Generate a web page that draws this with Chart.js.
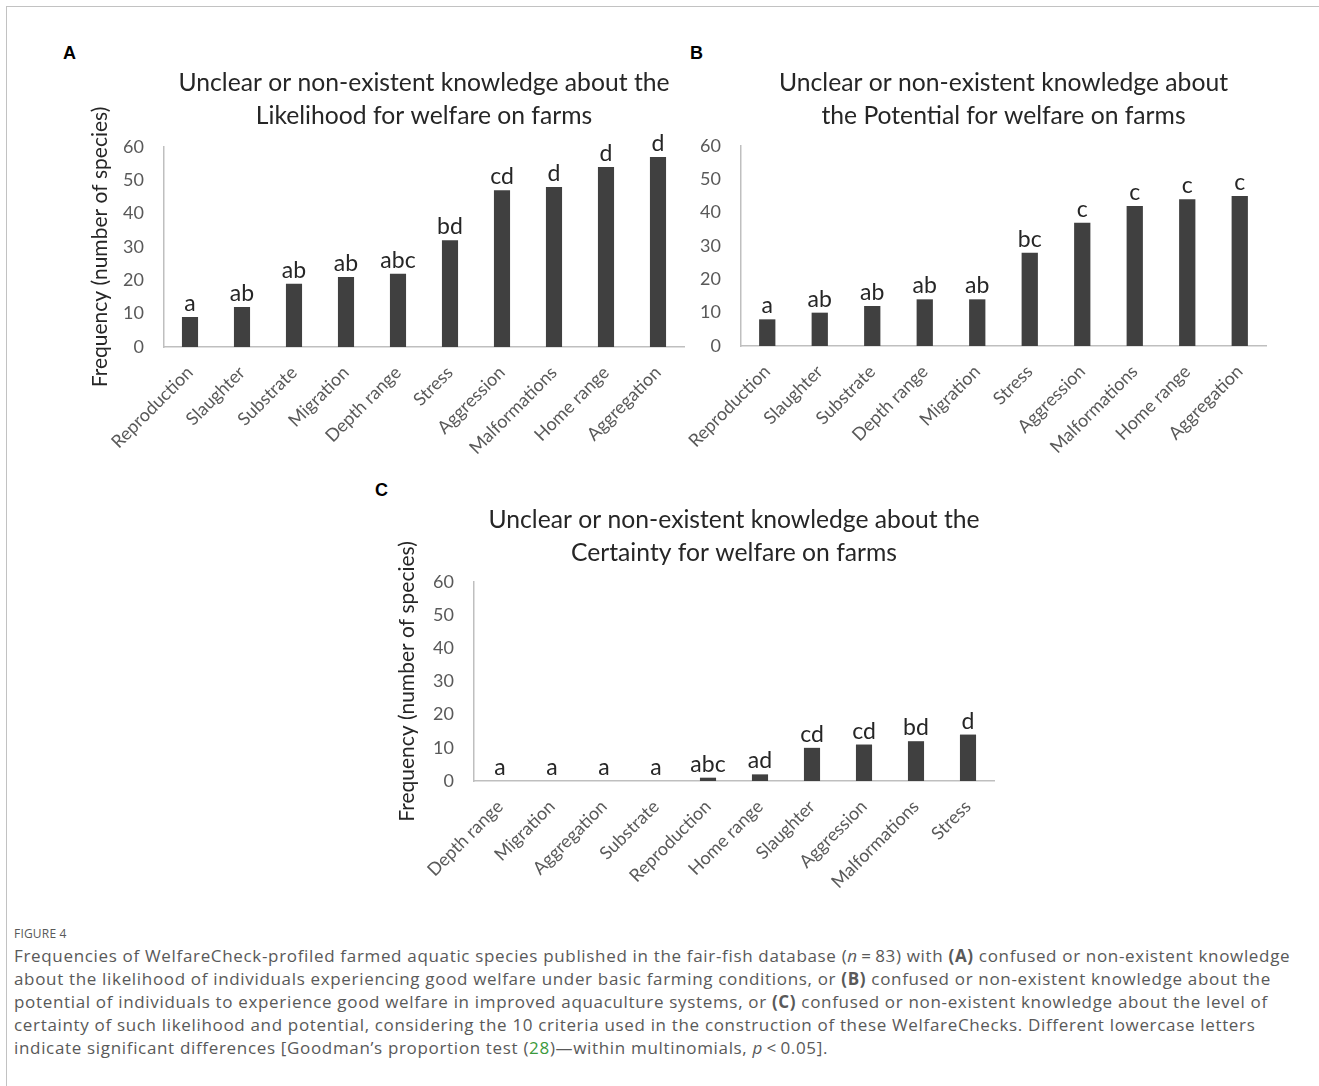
<!DOCTYPE html>
<html>
<head>
<meta charset="utf-8">
<title>Figure 4</title>
<script src="https://cdn.jsdelivr.net/npm/chart.js@4.4.1/dist/chart.umd.min.js"></script>
<style>
  html, body { margin: 0; padding: 0; background: #fff; }
  #page { position: relative; width: 1319px; height: 1086px; overflow: hidden; }
  #frame { position: absolute; left: 6px; top: 6px; width: 1320px; height: 1090px;
           border-top: 1.5px solid #c2c2c2; border-left: 1.5px solid #c2c2c2; }
  .panel { position: absolute; }
  .tag { position: absolute; font: bold 18px "Liberation Sans", Arial, sans-serif; color: #000; line-height: 18px; }
  #caption { position: absolute; left: 14px; top: 924px; font-family: "Open Sans", sans-serif; color: #595959; }
  #caption .fig { font-size: 12px; line-height: 20px; letter-spacing: 0.2px; }
  #caption .line { font-size: 17px; line-height: 23px; letter-spacing: 0.67px; white-space: nowrap; }
  #caption .ref { color: #3c9a3c; }
</style>
</head>
<body>
<div id="page">
  <div id="frame"></div>

  <div class="tag" style="left:63px; top:44px;">A</div>
  <div class="tag" style="left:690px; top:44px;">B</div>
  <div class="tag" style="left:375px; top:481px;">C</div>

  <div class="panel" style="left:0px; top:0px; width:834px; height:470px;"><canvas id="chartA"></canvas></div>
  <div class="panel" style="left:680px; top:0px; width:638px; height:470px;"><canvas id="chartB"></canvas></div>
  <div class="panel" style="left:380px; top:440px; width:715px; height:470px;"><canvas id="chartC"></canvas></div>

  <div id="caption">
    <div class="fig">FIGURE 4</div>
    <div class="line">Frequencies of WelfareCheck-profiled farmed aquatic species published in the fair-fish database (<i>n</i>&thinsp;=&thinsp;83) with <b>(A)</b> confused or non-existent knowledge</div>
    <div class="line">about the likelihood of individuals experiencing good welfare under basic farming conditions, or <b>(B)</b> confused or non-existent knowledge about the</div>
    <div class="line">potential of individuals to experience good welfare in improved aquaculture systems, or <b>(C)</b> confused or non-existent knowledge about the level of</div>
    <div class="line">certainty of such likelihood and potential, considering the 10 criteria used in the construction of these WelfareChecks. Different lowercase letters</div>
    <div class="line">indicate significant differences [Goodman’s proportion test (<span class="ref">28</span>)—within multinomials, <i>p</i>&thinsp;&lt;&thinsp;0.05].</div>
  </div>
</div>

<script>
// Panel A - likelihood
const criteriaA = ['Reproduction', 'Slaughter', 'Substrate', 'Migration', 'Depth range', 'Stress', 'Aggression', 'Malformations', 'Home range', 'Aggregation'];
const freqA = [9, 12, 19, 21, 22, 32, 47, 48, 54, 57];
const lettersA = ['a', 'ab', 'ab', 'ab', 'abc', 'bd', 'cd', 'd', 'd', 'd'];

// Panel B - potential
const criteriaB = ['Reproduction', 'Slaughter', 'Substrate', 'Depth range', 'Migration', 'Stress', 'Aggression', 'Malformations', 'Home range', 'Aggregation'];
const freqB = [8, 10, 12, 14, 14, 28, 37, 42, 44, 45];
const lettersB = ['a', 'ab', 'ab', 'ab', 'ab', 'bc', 'c', 'c', 'c', 'c'];

// Panel C - certainty
const criteriaC = ['Depth range', 'Migration', 'Aggregation', 'Substrate', 'Reproduction', 'Home range', 'Slaughter', 'Aggression', 'Malformations', 'Stress'];
const freqC = [0, 0, 0, 0, 1, 2, 10, 11, 12, 14];
const lettersC = ['a', 'a', 'a', 'a', 'abc', 'ad', 'cd', 'cd', 'bd', 'd'];

const titleA = ['Unclear or non-existent knowledge about the', 'Likelihood for welfare on farms'];
const titleB = ['Unclear or non-existent knowledge about', 'the Potential for welfare on farms'];
const titleC = ['Unclear or non-existent knowledge about the', 'Certainty for welfare on farms'];
const yAxisTitle = 'Frequency (number of species)';

const FONT = 'Lato, "Open Sans", sans-serif';

// letters of significance above each bar
const letterPlugin = {
    id: 'letters',
    afterDatasetsDraw(chart, args, opts) {
        const ctx = chart.ctx;
        const meta = chart.getDatasetMeta(0);
        ctx.save();
        ctx.font = '23px ' + FONT;
        ctx.fillStyle = '#262626';
        ctx.textAlign = 'center';
        ctx.textBaseline = 'alphabetic';
        meta.data.forEach((bar, i) => {
            ctx.fillText(opts.letters[i], bar.x, bar.y - 6);
        });
        ctx.restore();
    }
};

const makeChart = (id, labels, values, letters, cfg) => {
    const ctx = document.getElementById(id).getContext('2d');
    return new Chart(ctx, {
        type: 'bar',
        data: {
            labels,
            datasets: [{
                data: values,
                backgroundColor: '#404040',
                barPercentage: 0.31,
                categoryPercentage: 1
            }]
        },
        plugins: [letterPlugin],
        options: {
            responsive: true,
            maintainAspectRatio: false,
            animation: false,
            layout: { padding: { left: 0, right: cfg.padRight, top: 0, bottom: 0 } },
            plugins: {
                legend: { display: false },
                tooltip: { enabled: false },
                letters: { letters },
                title: {
                    display: true,
                    fullSize: false, // centre over the plot area
                    text: cfg.title,
                    color: '#262626',
                    font: { family: FONT, size: 24.7, weight: 'normal', lineHeight: '33px' },
                    padding: { top: cfg.titleTop, bottom: cfg.titleBottom }
                }
            },
            scales: {
                x: {
                    grid: { display: false, drawTicks: false },
                    border: { color: '#bfbfbf', width: 1.5 },
                    ticks: {
                        autoSkip: false,
                        minRotation: 45,
                        maxRotation: 45,
                        padding: 15,
                        color: '#595959',
                        font: { family: FONT, size: 18 }
                    },
                    afterFit(scale) {
                        scale.height = cfg.xHeight;
                        scale.paddingLeft = 0;
                        scale.paddingRight = 0;
                    }
                },
                y: {
                    min: 0,
                    max: 60,
                    grid: { display: false, drawTicks: false },
                    border: { color: '#bfbfbf', width: 1.5 },
                    ticks: {
                        stepSize: 10,
                        padding: 20,
                        color: '#595959',
                        font: { family: FONT, size: 18 }
                    },
                    title: {
                        display: cfg.yTitle,
                        text: yAxisTitle,
                        color: '#262626',
                        font: { family: FONT, size: 21 },
                        padding: { top: cfg.yTitlePad, bottom: 0 }
                    },
                    afterFit(scale) {
                        scale.width = cfg.yWidth;
                    }
                }
            }
        }
    });
};

makeChart('chartA', criteriaA, freqA, lettersA, {
    title: titleA, titleTop: 66.5, titleBottom: 14.5,
    padRight: 150, yWidth: 164, xHeight: 123, yTitle: true, yTitlePad: 87.4
});

makeChart('chartB', criteriaB, freqB, lettersB, {
    title: titleB, titleTop: 66.5, titleBottom: 13.5,
    padRight: 52, yWidth: 61, xHeight: 124, yTitle: false, yTitlePad: 0
});

makeChart('chartC', criteriaC, freqC, lettersC, {
    title: titleC, titleTop: 63.5, titleBottom: 12.5,
    padRight: 101, yWidth: 94, xHeight: 129, yTitle: true, yTitlePad: 14.4
});
</script>
</body>
</html>
